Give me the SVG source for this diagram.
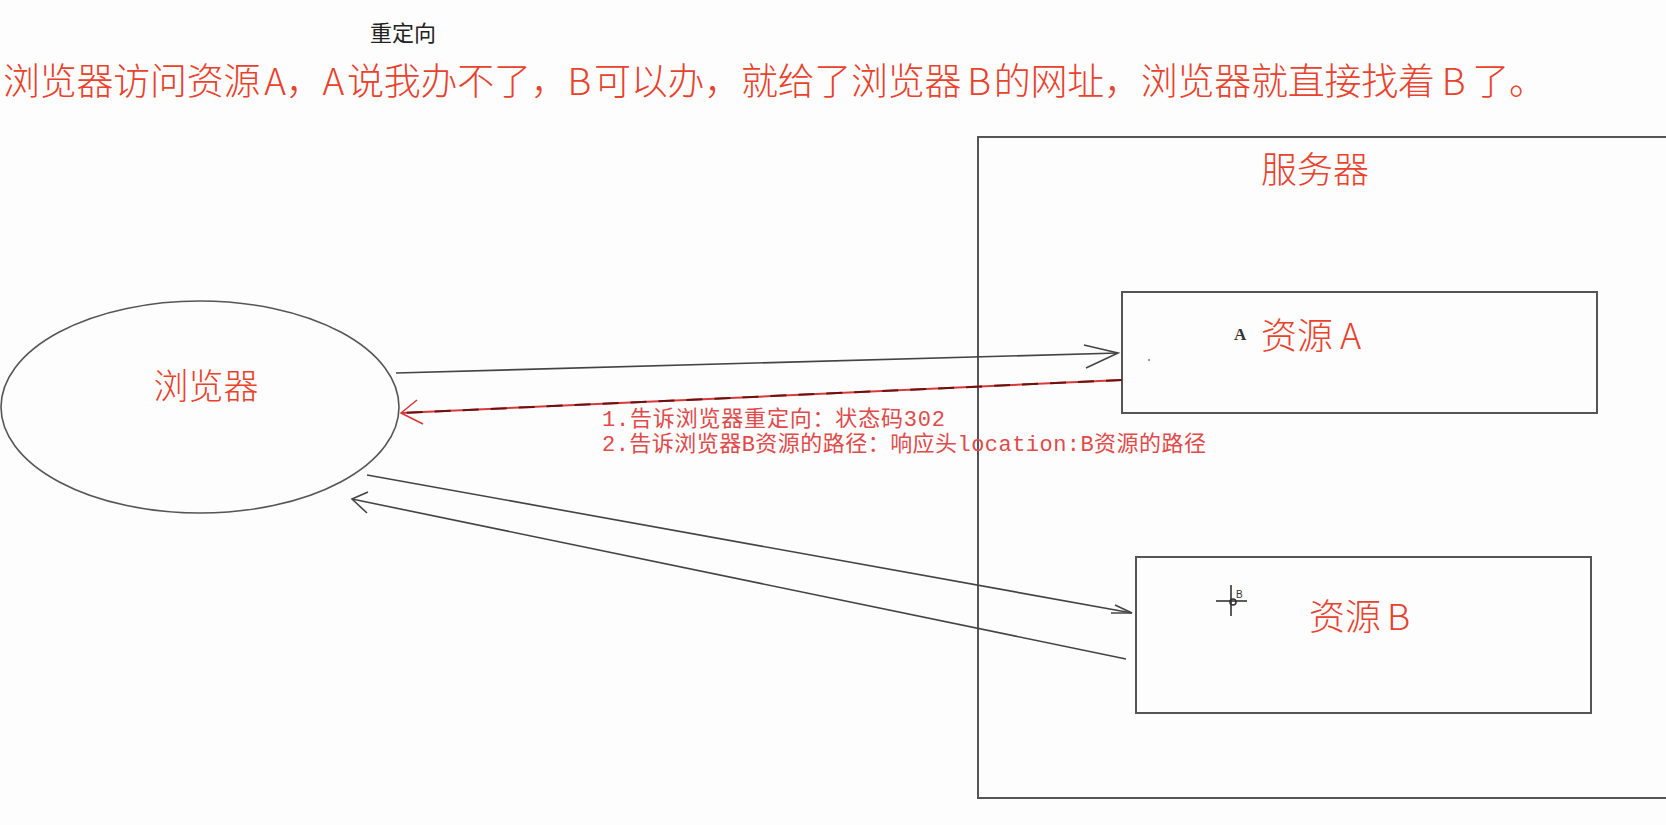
<svg xmlns="http://www.w3.org/2000/svg" width="1666" height="825" viewBox="0 0 1666 825">
  <defs>
    <style>
      .cjk { font-family: "Noto Sans CJK SC", "Noto Sans", sans-serif; font-weight: 300; }
      .red { fill: #e8412c; }
      .box { fill: none; stroke: #555; stroke-width: 2; }
      .line { fill: none; stroke: #444; stroke-width: 1.6; }
      .lbl { font-family: "Liberation Mono", "Noto Sans CJK SC", monospace; font-size: 22px; fill: #e04a4a; }
    </style>
  </defs>
  <rect x="0" y="0" width="1666" height="825" fill="#fdfdfd"/>

  <text x="370" y="41" class="cjk" font-size="22" fill="#222" style="font-weight:400">重定向</text>
  <text x="3" y="95" class="cjk red" font-size="37" textLength="1543" lengthAdjust="spacing">浏览器访问资源<tspan dx="4">A</tspan>，A<tspan dx="3">说我办不了，</tspan>B<tspan dx="3">可以办，就给了浏览器</tspan><tspan dx="6">B</tspan><tspan dx="3">的网址，浏览器就直接找着</tspan><tspan dx="7">B</tspan><tspan dx="7">了。</tspan></text>

  <g id="server">
    <rect x="978" y="137" width="760" height="661" class="box"/>
    <text x="1315" y="183" class="cjk red" font-size="36" text-anchor="middle">服务器</text>
  </g>

  <g id="browser">
    <ellipse cx="200" cy="407" rx="199" ry="106" fill="none" stroke="#555" stroke-width="1.6"/>
    <text x="206" y="399" class="cjk red" font-size="35" text-anchor="middle">浏览器</text>
  </g>

  <g id="resourceA">
    <rect x="1122" y="292" width="475" height="121" class="box"/>
    <text x="1234" y="340" font-family="Liberation Serif, serif" font-weight="bold" font-size="17" fill="#333">A</text>
    <text x="1261" y="349" class="cjk red" font-size="36">资源<tspan dx="7">A</tspan></text>
    <circle cx="1149" cy="360" r="1" fill="#777"/>
  </g>

  <g id="resourceB">
    <rect x="1136" y="557" width="455" height="156" class="box"/>
    <text x="1309" y="630" class="cjk red" font-size="36">资源<tspan dx="6">B</tspan></text>
    <g id="cursor" stroke="#333" stroke-width="1.6" fill="none">
      <line x1="1231" y1="585" x2="1231" y2="616"/>
      <line x1="1216" y1="601" x2="1247" y2="601"/>
      <circle cx="1233" cy="602" r="3"/>
    </g>
    <text x="1236" y="598" font-family="Liberation Sans, sans-serif" font-size="10" fill="#333">B</text>
  </g>

  <g id="connectors">
    <line x1="396" y1="373" x2="1118" y2="353" class="line"/>
    <polyline points="1084,345 1118,353 1086,368" class="line"/>

    <line x1="1122" y1="380" x2="401" y2="413" stroke="#d83a3a" stroke-width="2"/>
    <line x1="1122" y1="380" x2="401" y2="413" stroke="#6a1212" stroke-width="2" stroke-dasharray="16 12"/>
    <polyline points="417,400 401,413 423,424" fill="none" stroke="#d83a3a" stroke-width="1.6"/>

    <line x1="367" y1="475" x2="1132" y2="613" class="line"/>
    <polyline points="1115,605 1132,613 1111,613" class="line"/>

    <line x1="1126" y1="659" x2="352" y2="499" class="line"/>
    <polyline points="368,492 352,499 367,513" class="line"/>
  </g>

  <g id="labels">
    <text x="602" y="426" class="lbl" textLength="343" lengthAdjust="spacing">1.告诉浏览器重定向：状态码302</text>
    <text x="602" y="451" class="lbl" textLength="604" lengthAdjust="spacing">2.告诉浏览器B资源的路径：响应头location:B资源的路径</text>
  </g>
</svg>
